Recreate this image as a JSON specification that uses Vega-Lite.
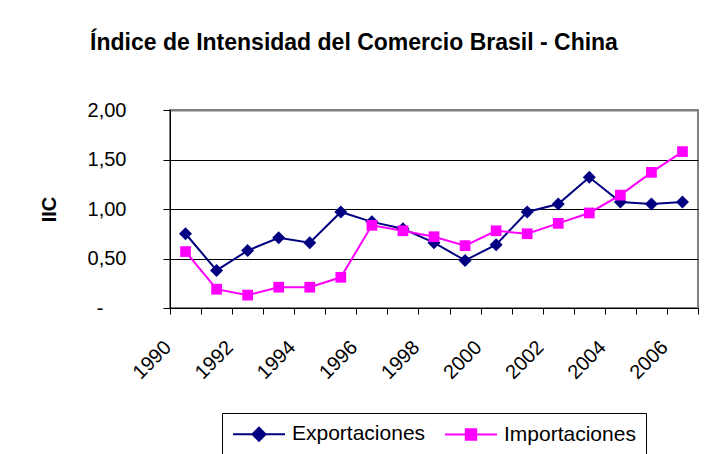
{
  "$schema": "https://vega.github.io/schema/vega-lite/v6.json",
  "width": 528,
  "height": 198,
  "autosize": "none",
  "padding": {"left": 170, "top": 110, "right": 13, "bottom": 146},
  "background": "white",
  "title": {
    "text": "Índice de Intensidad del Comercio Brasil - China",
    "font": "Liberation Sans",
    "fontSize": 23,
    "fontWeight": "bold",
    "color": "black",
    "anchor": "middle",
    "dx": -80,
    "offset": 27,
    "baseline": "alphabetic"
  },
  "config": {
    "font": "Liberation Sans",
    "view": {"stroke": "#808080", "strokeWidth": 2}
  },
  "data": {
    "values": [
      {"year": 1990, "serie": "Exportaciones", "iic": 0.75},
      {"year": 1991, "serie": "Exportaciones", "iic": 0.38},
      {"year": 1992, "serie": "Exportaciones", "iic": 0.58},
      {"year": 1993, "serie": "Exportaciones", "iic": 0.71},
      {"year": 1994, "serie": "Exportaciones", "iic": 0.66},
      {"year": 1995, "serie": "Exportaciones", "iic": 0.97},
      {"year": 1996, "serie": "Exportaciones", "iic": 0.87},
      {"year": 1997, "serie": "Exportaciones", "iic": 0.80},
      {"year": 1998, "serie": "Exportaciones", "iic": 0.66},
      {"year": 1999, "serie": "Exportaciones", "iic": 0.48},
      {"year": 2000, "serie": "Exportaciones", "iic": 0.64},
      {"year": 2001, "serie": "Exportaciones", "iic": 0.97},
      {"year": 2002, "serie": "Exportaciones", "iic": 1.05},
      {"year": 2003, "serie": "Exportaciones", "iic": 1.32},
      {"year": 2004, "serie": "Exportaciones", "iic": 1.07},
      {"year": 2005, "serie": "Exportaciones", "iic": 1.05},
      {"year": 2006, "serie": "Exportaciones", "iic": 1.07},
      {"year": 1990, "serie": "Importaciones", "iic": 0.57},
      {"year": 1991, "serie": "Importaciones", "iic": 0.19},
      {"year": 1992, "serie": "Importaciones", "iic": 0.13},
      {"year": 1993, "serie": "Importaciones", "iic": 0.21},
      {"year": 1994, "serie": "Importaciones", "iic": 0.21},
      {"year": 1995, "serie": "Importaciones", "iic": 0.31},
      {"year": 1996, "serie": "Importaciones", "iic": 0.835},
      {"year": 1997, "serie": "Importaciones", "iic": 0.78},
      {"year": 1998, "serie": "Importaciones", "iic": 0.72},
      {"year": 1999, "serie": "Importaciones", "iic": 0.63},
      {"year": 2000, "serie": "Importaciones", "iic": 0.78},
      {"year": 2001, "serie": "Importaciones", "iic": 0.75},
      {"year": 2002, "serie": "Importaciones", "iic": 0.855},
      {"year": 2003, "serie": "Importaciones", "iic": 0.96},
      {"year": 2004, "serie": "Importaciones", "iic": 1.14},
      {"year": 2005, "serie": "Importaciones", "iic": 1.37},
      {"year": 2006, "serie": "Importaciones", "iic": 1.58}
    ]
  },
  "encoding": {
    "x": {
      "field": "year",
      "type": "ordinal",
      "scale": {"type": "band", "paddingInner": 0, "paddingOuter": 0},
      "axis": {
        "title": null,
        "tickBand": "extent",
        "grid": false,
        "domainColor": "black",
        "domainWidth": 1,
        "tickColor": "black",
        "tickSize": 6,
        "labelExpr": "datum.value % 2 == 0 ? datum.label : ''",
        "labelAngle": -45,
        "labelAlign": "right",
        "labelBaseline": "middle",
        "labelFontSize": 20,
        "labelColor": "black",
        "labelOffset": -18,
        "labelPadding": 30,
        "labelOverlap": false
      }
    },
    "y": {
      "field": "iic",
      "type": "quantitative",
      "scale": {"domain": [0, 2], "nice": false},
      "axis": {
        "title": "IIC",
        "titleFontSize": 20,
        "titleFontWeight": "bold",
        "titleColor": "black",
        "titlePadding": 28,
        "values": [0, 0.5, 1, 1.5, 2],
        "labelExpr": "datum.value == 0 ? '-' : replace(format(datum.value, '.2f'), '.', ',')",
        "labelFontSize": 20,
        "labelColor": "black",
        "labelPadding": {"condition": {"test": "datum.value == 0", "value": 60}, "value": 37},
        "tickSize": 7,
        "tickColor": "black",
        "domainColor": "black",
        "domainWidth": 1,
        "gridColor": {"condition": {"test": "datum.value == 2", "value": "#808080"}, "value": "black"},
        "gridWidth": {"condition": {"test": "datum.value == 2", "value": 2}, "value": 1},
        "gridOpacity": 1
      }
    },
    "color": {
      "field": "serie",
      "type": "nominal",
      "scale": {"domain": ["Exportaciones", "Importaciones"], "range": ["#000080", "#FF00FF"]},
      "legend": {
        "title": null,
        "orient": "none",
        "legendX": 52,
        "legendY": 303,
        "direction": "horizontal",
        "padding": 10,
        "strokeColor": "black",
        "fillColor": "white",
        "labelFontSize": 21,
        "labelColor": "black",
        "labelOffset": 38,
        "columnPadding": 15,
        "symbolSize": 400,
        "symbolStrokeWidth": 2,
        "symbolType": "M-1,0L4.2,0",
        "encode": {
          "symbols": {
            "update": {
              "shape": {"signal": "datum.value === 'Exportaciones' ? 'M-1,0L4.2,0M0.95,0L1.6,-0.65L2.25,0L1.6,0.65Z' : 'M-1,0L4.2,0M1.08,-0.52L2.12,-0.52L2.12,0.52L1.08,0.52Z'"},
              "fill": {"scale": "color", "field": "value"},
              "stroke": {"scale": "color", "field": "value"},
              "opacity": {"value": 1},
              "fillOpacity": {"value": 1},
              "strokeWidth": {"value": 2}
            }
          }
        }
      }
    }
  },
  "layer": [
    {"mark": {"type": "line", "strokeWidth": 2}},
    {
      "transform": [{"filter": "datum.serie === 'Exportaciones'"}],
      "mark": {"type": "point", "filled": true, "opacity": 1, "shape": "diamond", "size": 169}
    },
    {
      "transform": [{"filter": "datum.serie === 'Importaciones'"}],
      "mark": {"type": "point", "filled": true, "opacity": 1, "shape": "square", "size": 115}
    }
  ]
}
